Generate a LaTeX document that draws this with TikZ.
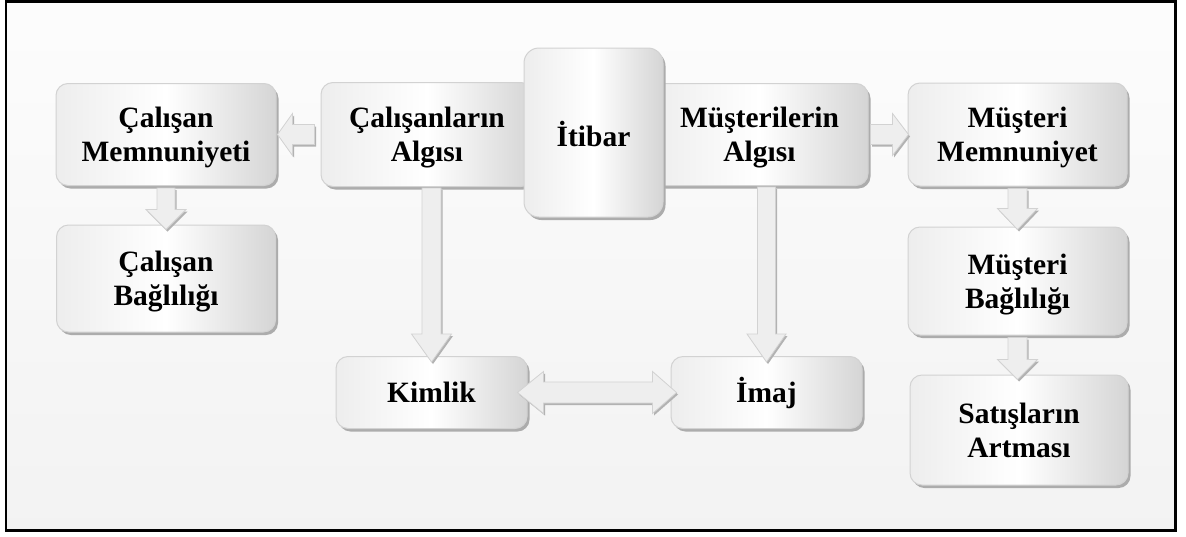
\documentclass[tikz,border=0pt]{standalone}
\usepackage{fontspec}
\setmainfont{Liberation Serif}
\usetikzlibrary{calc,shadows}

% a line of box text measured by its capitals only, so boxes centre on caps
\newcommand{\capline}[1]{\raisebox{0pt}[20pt][0pt]{#1}}

\tikzset{
  box/.style={rounded corners=12pt, draw=gray!35, line width=1pt,
    left color=gray!14, right color=gray!33, middle color=white,
    align=center, inner sep=0pt, text=black,
    font=\bfseries\fontsize{29.5}{34}\selectfont,
    drop shadow={shadow xshift=2.5pt, shadow yshift=-3pt, fill=gray!65, opacity=1}},
  barrow/.style={fill=gray!13, draw=gray!35, line width=0.8pt, line join=miter,
    drop shadow={shadow xshift=1.5pt, shadow yshift=-2pt, fill=gray!60, opacity=1}}
}

\begin{document}
\begin{tikzpicture}[x=1pt, y=-1pt]
  \useasboundingbox (0,0) rectangle (1186,536);
  % framed background
  \fill[top color=gray!2, bottom color=gray!10] (6,1.5) rectangle (1175.5,530.5);
  \draw[line width=2.5pt] (6,1.5) rectangle (1175.5,530.5);

  % perception boxes with the central reputation box on top
  \node[box, minimum width=212pt, minimum height=104pt] (ca) at (427,134.5)
    {\capline{Çalışanların}\\\capline{Algısı}};
  \node[box, minimum width=217pt, minimum height=102pt] (ma) at (759.5,134.5)
    {\capline{Müşterilerin}\\\capline{Algısı}};
  \node[box, rounded corners=15pt, minimum width=139pt, minimum height=169pt] (it) at (593.5,132.5)
    {\raisebox{0pt}[27pt][0pt]{İtibar}};

  % employee side
  \node[box, minimum width=220pt, minimum height=102pt] (cm) at (166,134.5)
    {\capline{Çalışan}\\\capline{Memnuniyeti}};
  \node[box, minimum width=219pt, minimum height=107pt] (cb) at (166,278.5)
    {\capline{Çalışan}\\\capline{Bağlılığı}};

  % customer side
  \node[box, minimum width=219pt, minimum height=103pt] (mm) at (1017.5,134.5)
    {\capline{Müşteri}\\\capline{Memnuniyet}};
  \node[box, minimum width=219pt, minimum height=108pt] (mb) at (1017.5,281)
    {\capline{Müşteri}\\\capline{Bağlılığı}};
  \node[box, minimum width=218pt, minimum height=110pt] (sa) at (1019,430)
    {\capline{Satışların}\\\capline{Artması}};

  % identity and image
  \node[box, minimum width=191pt, minimum height=72pt] (ki) at (431.5,392.5) {\capline{Kimlik}};
  \node[box, minimum width=191pt, minimum height=72pt] (im) at (766.5,392.5) {\capline{İmaj}};

  % helper points for the vertical arrows
  \coordinate (katop) at (ki.north |- ca.south);
  \coordinate (imtop) at (im.north |- ma.south);
  \coordinate (satop) at (mb.south |- sa.north);

  % block arrows
  \draw[barrow] ($(ca.west)+(-6,-10)$) -- ($(cm.east)+(16,-10)$) -- ($(cm.east)+(16,-21)$)
    -- ($(cm.east)+(1,0)$) -- ($(cm.east)+(16,21)$) -- ($(cm.east)+(16,10)$)
    -- ($(ca.west)+(-6,10)$) -- cycle;

  \draw[barrow] ($(ma.east)+(2,-10)$) -- ($(mm.west)+(-15,-10)$) -- ($(mm.west)+(-15,-21)$)
    -- ($(mm.west)+(1,0)$) -- ($(mm.west)+(-15,21)$) -- ($(mm.west)+(-15,10)$)
    -- ($(ma.east)+(2,10)$) -- cycle;

  \draw[barrow] ($(cm.south)+(-9,2)$) -- ($(cb.north)+(-9,-15)$) -- ($(cb.north)+(-20,-15)$)
    -- ($(cb.north)+(0,5)$) -- ($(cb.north)+(20,-15)$) -- ($(cb.north)+(9,-15)$)
    -- ($(cm.south)+(9,2)$) -- cycle;

  \draw[barrow] ($(mm.south)+(-9.5,2)$) -- ($(mb.north)+(-9.5,-18)$) -- ($(mb.north)+(-20,-18)$)
    -- ($(mb.north)+(0,3)$) -- ($(mb.north)+(20,-18)$) -- ($(mb.north)+(9.5,-18)$)
    -- ($(mm.south)+(9.5,2)$) -- cycle;

  \draw[barrow] ($(mb.south)+(-9.5,2)$) -- ($(satop)+(-9.5,-15)$) -- ($(satop)+(-20,-15)$)
    -- ($(satop)+(0,5)$) -- ($(satop)+(20,-15)$) -- ($(satop)+(9.5,-15)$)
    -- ($(mb.south)+(9.5,2)$) -- cycle;

  \draw[barrow] ($(katop)+(-9.5,1)$) -- ($(ki.north)+(-9.5,-22)$) -- ($(ki.north)+(-20,-22)$)
    -- ($(ki.north)+(0,6)$) -- ($(ki.north)+(20,-22)$) -- ($(ki.north)+(9.5,-22)$)
    -- ($(katop)+(9.5,1)$) -- cycle;

  \draw[barrow] ($(imtop)+(-9,1)$) -- ($(im.north)+(-9,-22)$) -- ($(im.north)+(-19.5,-22)$)
    -- ($(im.north)+(0,6)$) -- ($(im.north)+(19.5,-22)$) -- ($(im.north)+(9,-22)$)
    -- ($(imtop)+(9,1)$) -- cycle;

  \draw[barrow] ($(ki.east)+(-10,0)$) -- ($(ki.east)+(16,-21)$) -- ($(ki.east)+(16,-10.5)$)
    -- ($(im.west)+(-18,-10.5)$) -- ($(im.west)+(-18,-21)$) -- ($(im.west)+(6,0)$)
    -- ($(im.west)+(-18,21)$) -- ($(im.west)+(-18,10.5)$) -- ($(ki.east)+(16,10.5)$)
    -- ($(ki.east)+(16,21)$) -- cycle;
\end{tikzpicture}
\end{document}
